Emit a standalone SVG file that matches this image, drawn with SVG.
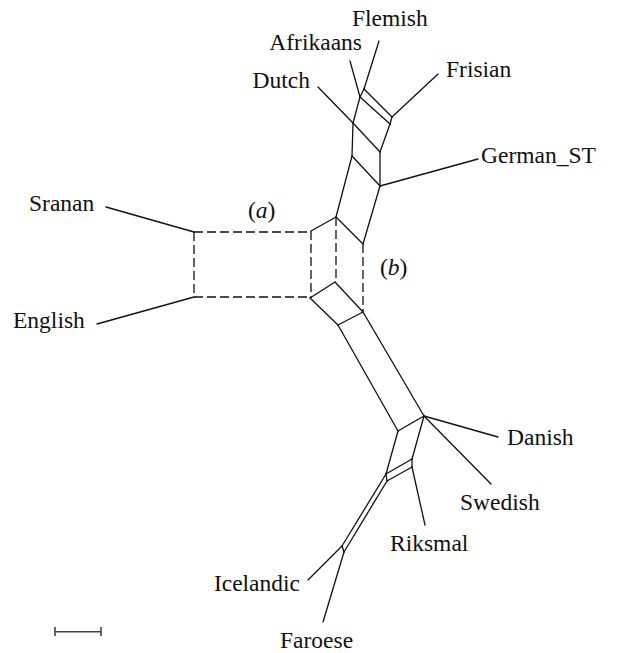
<svg xmlns="http://www.w3.org/2000/svg" width="622" height="653" viewBox="0 0 622 653">
<style>
text{font-family:"Liberation Serif","Times New Roman",serif;font-size:23.5px;fill:#111}
.e{stroke:#111;stroke-width:1.3;fill:none;stroke-linecap:round}
.d{stroke:#111;stroke-width:1.3;fill:none;stroke-dasharray:9 4}
.s{stroke:#444;stroke-width:1.6;fill:none}
</style>
<rect width="622" height="653" fill="#fff"/>
<g id="connectors">
<!-- upper cluster -->
<line class="e" x1="379" y1="41" x2="364" y2="89"/>
<line class="e" x1="350" y1="61" x2="360" y2="97"/>
<line class="e" x1="364" y1="89" x2="360" y2="97"/>
<line class="e" x1="364" y1="89" x2="392" y2="117"/>
<line class="e" x1="360" y1="97" x2="390" y2="124"/>
<line class="e" x1="438" y1="74" x2="392" y2="117"/>
<line class="e" x1="392" y1="117" x2="390" y2="124"/>
<line class="e" x1="360" y1="97" x2="353" y2="123"/>
<line class="e" x1="318" y1="87" x2="353" y2="123"/>
<line class="e" x1="390" y1="124" x2="380" y2="152"/>
<line class="e" x1="353" y1="123" x2="380" y2="152"/>
<line class="e" x1="353" y1="123" x2="352" y2="156"/>
<line class="e" x1="380" y1="152" x2="380" y2="186"/>
<line class="e" x1="352" y1="156" x2="380" y2="186"/>
<line class="e" x1="380" y1="186" x2="478" y2="159"/>
<line class="e" x1="352" y1="156" x2="336" y2="217"/>
<line class="e" x1="380" y1="186" x2="363" y2="244"/>
<line class="e" x1="336" y1="217" x2="363" y2="244"/>
<!-- middle -->
<line class="e" x1="106" y1="207" x2="194" y2="232"/>
<line class="e" x1="97" y1="324" x2="194" y2="297"/>
<path class="d" d="M194,232 H311 M194,297 H310 M194,232 V297 M311,231 V298 M336,217 V282 M363,244 V312"/>
<line class="e" x1="311" y1="231" x2="336" y2="217"/>
<line class="e" x1="310" y1="298" x2="335" y2="282"/>
<line class="e" x1="335" y1="282" x2="363" y2="312"/>
<line class="e" x1="310" y1="298" x2="338" y2="325"/>
<line class="e" x1="363" y1="312" x2="338" y2="325"/>
<line class="e" x1="338" y1="325" x2="398" y2="431"/>
<line class="e" x1="363" y1="312" x2="424" y2="416"/>
<!-- lower cluster -->
<line class="e" x1="398" y1="431" x2="424" y2="416"/>
<line class="e" x1="424" y1="416" x2="498" y2="437"/>
<line class="e" x1="424" y1="416" x2="491" y2="484"/>
<line class="e" x1="424" y1="416" x2="412" y2="459"/>
<line class="e" x1="398" y1="431" x2="386" y2="474"/>
<line class="e" x1="412" y1="459" x2="386" y2="474"/>
<line class="e" x1="412" y1="467" x2="387" y2="481"/>
<line class="e" x1="412" y1="459" x2="412" y2="467"/>
<line class="e" x1="386" y1="474" x2="387" y2="481"/>
<line class="e" x1="412" y1="467" x2="425" y2="525"/>
<line class="e" x1="386" y1="474" x2="342" y2="546"/>
<line class="e" x1="387" y1="481" x2="344" y2="552"/>
<line class="e" x1="342" y1="546" x2="344" y2="552"/>
<line class="e" x1="342" y1="546" x2="308" y2="580"/>
<line class="e" x1="344" y1="552" x2="323" y2="622"/>
</g>
<g id="Flemish"><text x="352" y="26">Flemish</text></g>
<g id="Afrikaans"><text x="362" y="50" text-anchor="end">Afrikaans</text></g>
<g id="Dutch"><text x="310" y="88" text-anchor="end">Dutch</text></g>
<g id="Frisian"><text x="446" y="77">Frisian</text></g>
<g id="German_ST"><text x="481" y="163">German_ST</text></g>
<g id="Sranan"><text x="29" y="211">Sranan</text></g>
<g id="English"><text x="13" y="328">English</text></g>
<g id="Danish"><text x="507" y="445">Danish</text></g>
<g id="Swedish"><text x="460" y="510">Swedish</text></g>
<g id="Riksmal"><text x="390" y="551">Riksmal</text></g>
<g id="Icelandic"><text x="300" y="591" text-anchor="end">Icelandic</text></g>
<g id="Faroese"><text x="280" y="648">Faroese</text></g>
<g id="split-labels">
<text x="248" y="218">(<tspan font-style="italic">a</tspan>)</text>
<text x="380" y="275">(<tspan font-style="italic">b</tspan>)</text>
</g>
<g id="scale-bar">
<path class="s" d="M55,631.7 H101 M55,627 V636 M101,627 V636"/>
</g>
</svg>
